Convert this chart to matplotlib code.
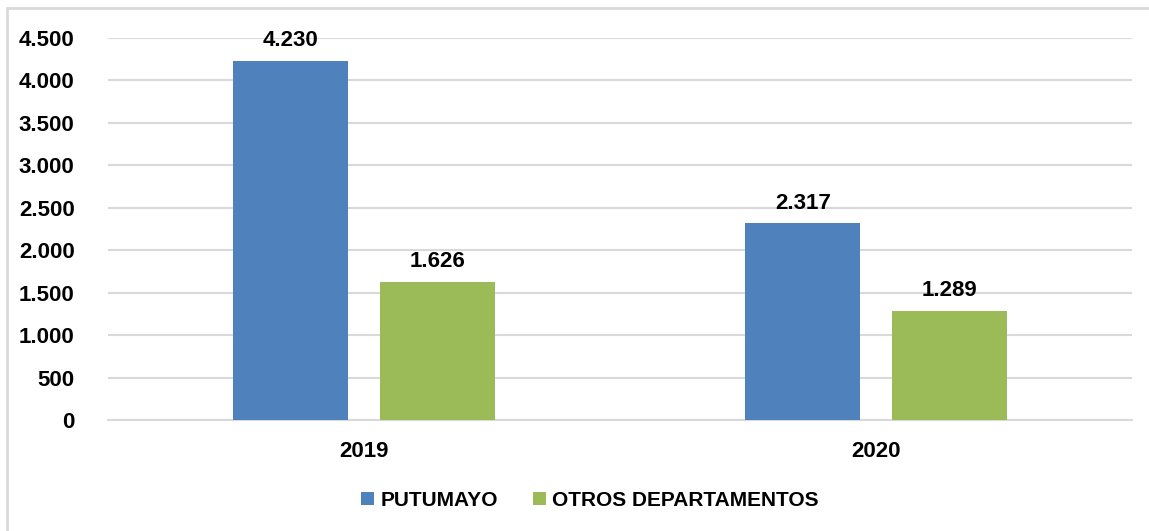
import matplotlib
matplotlib.use("Agg")
import matplotlib.pyplot as plt
from matplotlib.patches import Patch, Rectangle
from matplotlib.ticker import FuncFormatter, FixedLocator
import numpy as np

categories = ["2019", "2020"]
series_names = ["PUTUMAYO", "OTROS DEPARTAMENTOS"]
putumayo = [4230, 2317]
otros = [1626, 1289]
yticks = [0, 500, 1000, 1500, 2000, 2500, 3000, 3500, 4000, 4500]
colors = ["#4F81BD", "#9BBB59"]

plt.rcParams['font.family'] = ['Liberation Sans', 'DejaVu Sans']
plt.rcParams['font.weight'] = 'bold'

fig = plt.figure(figsize=(11.49, 5.31), dpi=100)
ax = fig.add_axes([108/1149, 1-420/531, 1024/1149, 382/531])

# figure border
fig.patches.append(Rectangle((7/1149, -0.05), 1.2, 1 - 8/531 + 0.05, transform=fig.transFigure,
                             fill=False, edgecolor="#d9d9d9", linewidth=2, zorder=0))

x = np.arange(len(categories))
w = 0.225
off = 0.143
for i, (vals, name) in enumerate(zip([putumayo, otros], series_names)):
    pos = x + (-off if i == 0 else off)
    bars = ax.bar(pos, vals, width=w, color=colors[i], zorder=3, label=name)
    for b, v in zip(bars, vals):
        ax.annotate(f"{v:,}".replace(",", "."), (b.get_x() + b.get_width()/2, v),
                    xytext=(0, 7), textcoords="offset points", ha="center", va="bottom",
                    fontsize=16, fontweight="bold")

ax.set_xlim(-0.5, 1.5)
ax.set_ylim(0, 4500)
ax.yaxis.set_major_locator(FixedLocator(yticks))
ax.yaxis.set_major_formatter(FuncFormatter(lambda v, p: f"{int(v):,}".replace(",", ".")))
ax.set_xticks(x)
ax.set_xticklabels(categories)
ax.tick_params(axis="y", length=0, pad=24, labelsize=16)
ax.tick_params(axis="x", length=0, pad=15, labelsize=16)
for lab in ax.get_xticklabels() + ax.get_yticklabels():
    lab.set_fontweight("bold")
ax.grid(axis="y", color="#d9d9d9", linewidth=1.5, zorder=0)
ax.set_axisbelow(True)
for s in ["top", "right", "left"]:
    ax.spines[s].set_visible(False)
ax.spines["bottom"].set_color("#d9d9d9")
ax.spines["bottom"].set_linewidth(1.5)

handles = [Patch(facecolor=c, edgecolor="none") for c in colors]
fig.legend(handles, series_names, loc="center", bbox_to_anchor=(590/1149, 1-500/531), ncol=2,
           frameon=False, handlelength=0.6, handleheight=0.6, handletextpad=0.3,
           columnspacing=1.7, prop={"size": 15, "weight": "bold"})

fig.savefig("out.png", dpi=100)
